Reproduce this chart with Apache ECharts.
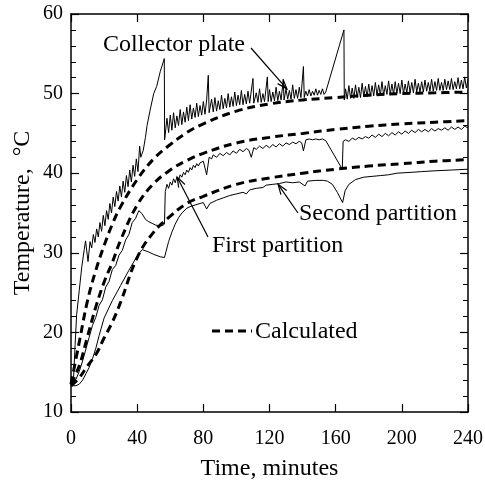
<!DOCTYPE html>
<html>
<head>
<meta charset="utf-8">
<script src="https://cdn.jsdelivr.net/npm/echarts@6/dist/echarts.min.js"></script>
<style>
  html, body { margin: 0; padding: 0; background: #fff; }
  #chart-show { width: 485px; height: 481px; }
</style>
</head>
<body>
<div id="chart-show"></div>
<script>
// axis ticks
var xTicks = [0, 40, 80, 120, 160, 200, 240];
var yTicks = [10, 20, 30, 40, 50, 60];

// measured: collector plate (minutes / deg C)
var collectorTime = [0, 1.5, 2.5, 3.4, 5, 6.5, 8, 8.8, 10.3, 11.5, 12.5, 13.5, 14.5, 15.5, 16.5, 17.5, 18.5, 19.5, 20.5, 21.5,
  22.5, 23.5, 24.5, 25.5, 26.5, 27.5, 28.5, 29.5, 30.5, 31.5, 32.5, 33.5, 34.5, 35.5, 36.5, 37.5, 38.5, 39.5, 40.5, 41.5,
  42.2, 43.7, 45, 46, 47.8, 50, 51.8, 54, 56.4, 56.6,
  58, 59, 60, 61, 62, 63, 64, 65, 66, 67, 68, 69, 70, 71, 72, 73, 74, 75, 76, 77, 78, 79, 80, 81, 82, 83, 83.5,
  85, 86, 87, 88, 89, 90, 91, 92, 93, 94, 95, 96, 97, 98, 99, 100, 101, 102, 103, 104, 105, 106, 107, 108, 110, 110.5,
  112, 113, 114, 115, 116, 117, 118.7, 119.2, 120, 121, 122, 123, 124, 125, 126, 127, 128.3, 128.8, 130, 131, 132, 133,
  134, 135, 136, 137, 138, 139, 140.5, 141, 142, 143, 144, 145, 146, 147, 148, 149, 150, 151, 152, 153, 154, 165, 165.2,
  166, 167, 168, 169, 170, 171, 172, 173, 174, 175, 176, 177, 178, 179, 180, 181, 182, 183, 184, 185, 186, 187, 188, 189,
  190, 191, 192, 193, 194, 195, 196, 197, 198, 199, 200, 201, 202, 203, 204, 205, 206, 207, 208, 209, 210, 211, 212, 213,
  214, 215, 216, 217, 218, 219, 220, 221, 222, 223, 224, 225, 226, 227, 228, 229, 230, 231, 232, 233, 234, 235, 236, 237,
  238, 239, 240];
var collectorTemp = [13.3, 14.0, 18.5, 22.2, 25.3, 28.2, 30.4, 31.5, 28.9, 31.4, 30.6, 32.3, 31.3, 33.0, 32.0, 33.8, 32.7, 34.7, 33.4, 35.3,
  34.2, 36.2, 35.0, 37.0, 35.8, 37.7, 36.5, 38.4, 37.0, 39.0, 37.6, 39.7, 38.3, 40.4, 38.9, 41.0, 39.6, 41.8, 40.2, 43.4,
  42.0, 42.9, 44.5, 46.0, 47.9, 50.0, 50.9, 52.8, 54.4, 44.2,
  46.9, 45.1, 47.3, 45.4, 47.6, 45.7, 47.2, 46.0, 48.0, 46.1, 47.7, 46.4, 48.3, 46.6, 48.6, 46.8, 48.2, 47.0, 48.8, 47.1, 48.5, 47.3, 49.0, 47.4, 49.2, 52.3, 47.6,
  49.3, 47.7, 49.5, 47.8, 49.1, 48.0, 49.8, 48.1, 49.4, 48.2, 50.0, 48.3, 49.6, 48.4, 50.2, 48.5, 49.8, 48.6, 50.4, 48.6, 49.9, 48.7, 50.3, 48.8, 51.9, 48.8,
  50.1, 48.9, 50.6, 48.9, 50.0, 49.0, 52.1, 49.0, 50.5, 49.0, 50.2, 49.1, 50.8, 49.1, 50.3, 49.2, 51.7, 49.2, 50.6, 49.3, 50.4, 49.3,
  51.1, 49.4, 50.5, 49.4, 50.8, 49.5, 53.4, 49.5, 50.3, 49.7, 50.5, 49.7, 50.3, 49.8, 50.6, 49.8, 50.4, 49.9, 50.6, 49.9, 50.2, 58.0, 49.2,
  50.6, 49.3, 51.0, 49.4, 50.7, 49.4, 51.1, 49.5, 50.8, 49.5, 51.3, 49.6, 50.9, 49.6, 51.2, 49.7, 51.0, 49.7, 51.4, 49.8, 51.1, 49.8, 51.5, 49.8,
  51.0, 49.9, 51.6, 49.9, 51.2, 49.9, 51.5, 50.0, 51.3, 50.0, 51.7, 50.0, 51.2, 50.1, 51.6, 50.1, 51.4, 50.1, 51.8, 50.2, 51.3, 50.2, 51.5, 50.2,
  51.7, 50.3, 51.4, 50.3, 51.8, 50.3, 51.5, 50.4, 51.9, 50.4, 51.4, 50.4, 51.8, 50.5, 51.6, 50.5, 51.9, 50.5, 51.5, 50.6, 52.0, 50.6, 51.7, 50.6,
  52.1, 50.7, 51.8];

// measured: first partition
var firstTime = [0, 3, 5, 7, 9, 11, 13, 15, 17, 19, 21, 23, 25, 27, 29, 31, 33, 35, 37, 39, 41, 43, 45, 47, 49, 51, 53, 55, 56.5, 57,
  58, 59, 60, 61, 62, 63, 64, 65, 66, 67, 68, 69, 70, 71, 72, 73, 74, 75, 76, 77, 78, 79, 80, 82, 83.5,
  85, 86, 88, 90, 92, 94, 96, 98, 100, 102, 104, 106, 107.5, 109, 110.5, 112, 114, 116, 118, 120, 122, 124, 126, 128, 130,
  132, 134, 136, 138, 139.5, 140.5, 142, 144, 146, 148, 150, 152, 154, 164, 164.5, 166, 168, 170, 172, 174, 176, 178, 180,
  182, 184, 186, 188, 190, 192, 194, 196, 198, 200, 202, 204, 206, 208, 210, 212, 214, 216, 218, 220, 222, 224, 226, 228,
  230, 232, 234, 236, 238, 240];
var firstTemp = [13.5, 14.1, 15.1, 16.4, 17.9, 19.4, 20.9, 21.9, 23.4, 24.1, 25.7, 26.4, 27.9, 28.4, 29.7, 30.3, 31.6, 32.3, 33.8, 34.3, 35.3, 34.9, 34.2, 33.9, 33.7, 33.5, 33.4, 33.4, 33.6, 37.7,
  38.6, 38.1, 38.9, 38.5, 39.3, 38.8, 39.5, 39.1, 39.8, 39.5, 40.1, 39.8, 40.4, 40.1, 40.7, 40.4, 41.0, 40.7, 41.2, 40.9, 41.3, 41.1, 41.5, 39.8, 42.0,
  41.8, 42.3, 42.0, 42.5, 42.2, 42.6, 42.3, 42.8, 42.5, 43.0, 42.7, 43.1, 42.9, 42.0, 43.2, 43.0, 43.4, 43.1, 43.5, 43.2, 43.6, 43.3, 43.7, 43.4, 43.8,
  43.6, 43.9, 43.7, 44.0, 43.8, 42.8, 44.2, 44.3, 44.2, 44.3, 44.2, 44.3, 44.1, 40.5, 44.0, 44.2, 44.0, 44.4, 44.2, 44.5, 44.3, 44.6, 44.4,
  44.8, 44.5, 44.9, 44.6, 45.0, 44.7, 45.1, 44.8, 45.2, 44.9, 45.3, 45.0, 45.4, 45.1, 45.5, 45.2, 45.5, 45.2, 45.6, 45.3, 45.6, 45.4, 45.7, 45.4,
  45.8, 45.5, 45.8, 45.5, 45.9, 45.7];

// measured: second partition
var secondTime = [0, 3, 5, 7, 9, 11, 13, 15, 17, 20, 25, 30, 35, 40, 43, 47, 50, 54, 56.5, 57.5, 59, 61, 63, 65, 67, 70, 72, 75,
  78, 80, 82, 84, 88, 92, 96, 100, 104, 106, 108, 112, 116, 118, 122, 126, 130, 134, 138, 141.5, 143, 148, 152.5, 155, 158,
  161, 164.2, 165.7, 168, 172, 177, 182, 187, 192, 197, 205, 212, 220, 230, 240];
var secondTemp = [13.3, 13.3, 13.5, 14.0, 14.8, 15.6, 16.7, 18.0, 19.6, 21.8, 24.0, 25.9, 27.8, 29.6, 30.4, 30.1, 29.8, 29.5, 29.4, 30.2, 31.4, 32.6, 33.6, 34.4, 35.0, 35.6, 35.8, 36.0,
  36.2, 36.3, 35.5, 36.2, 36.6, 36.9, 37.2, 37.4, 37.6, 37.4, 37.9, 38.1, 38.2, 38.5, 38.6, 38.7, 38.9, 38.8, 38.9, 38.4, 39.0, 39.1, 39.1, 39.0, 38.6,
  37.6, 36.3, 37.8, 38.6, 39.2, 39.5, 39.6, 39.7, 39.8, 40.0, 40.1, 40.2, 40.3, 40.4, 40.5];

// calculated curves
var calcTime = [0, 5, 10, 15, 20, 25, 30, 40, 50, 60, 70, 80, 100, 120, 140, 160, 180, 200, 220, 240];
var calcCollector = [13.5, 18.8, 24.0, 27.8, 30.9, 33.6, 35.8, 39.2, 41.8, 43.6, 45.1, 46.2, 47.8, 48.7, 49.2, 49.5, 49.8, 50.0, 50.1, 50.2];
var calcFirst = [13.5, 15.8, 19.5, 23.2, 26.3, 28.8, 31.6, 36.0, 38.7, 40.4, 41.6, 42.5, 43.8, 44.5, 45.0, 45.5, 45.9, 46.2, 46.4, 46.6];
var calcSecond = [13.3, 14.3, 15.8, 17.2, 19.3, 21.3, 23.8, 29.4, 32.6, 34.6, 36.2, 37.1, 38.6, 39.4, 40.0, 40.5, 40.9, 41.2, 41.5, 41.7];

window.onload = drawChart;

function pairs(xs, ys) {
    return xs.map(function (x, i) { return [x, ys[i]]; });
}

function drawChart() {
    var chart = echarts.init(document.getElementById('chart-show'), null, { renderer: 'canvas' });
    var serif = '"Liberation Serif", "DejaVu Serif", serif';
    var ink = '#000';

    function measured(name, xs, ys) {
        return { name: name, type: 'line', data: pairs(xs, ys), showSymbol: false, symbol: 'none',
            lineStyle: { color: ink, width: 1 }, z: 3 };
    }
    function calculated(name, ys) {
        return { name: name, type: 'line', data: pairs(calcTime, ys), showSymbol: false, symbol: 'none', smooth: 0.4,
            lineStyle: { color: ink, width: 3, type: [8, 5] }, z: 4 };
    }

    var xAxisBase = {
        type: 'value', min: xTicks[0], max: xTicks[xTicks.length - 1], interval: 40,
        splitLine: { show: false },
        axisLine: { onZero: false, lineStyle: { color: ink, width: 1.5 } },
        axisTick: { inside: true, length: 8, lineStyle: { color: ink, width: 1.2 } }
    };
    var yAxisBase = {
        type: 'value', min: yTicks[0], max: yTicks[yTicks.length - 1], interval: 10,
        splitLine: { show: false },
        axisLine: { onZero: false, lineStyle: { color: ink, width: 1.5 } },
        axisTick: { inside: true, length: 8, lineStyle: { color: ink, width: 1.2 } },
        minorTick: { show: true, splitNumber: 5, length: 5, lineStyle: { color: ink, width: 1 } },
        minorSplitLine: { show: false }
    };

    var option = {
        animation: false,
        backgroundColor: '#fff',
        grid: { left: 71, right: 17, top: 14, bottom: 69, containLabel: false, outerBoundsMode: 'none' },
        xAxis: [
            Object.assign({}, xAxisBase, {
                position: 'bottom',
                name: 'Time, minutes', nameLocation: 'middle', nameGap: 45,
                nameTextStyle: { fontFamily: serif, fontSize: 24, color: ink },
                axisLabel: { margin: 17, fontFamily: serif, fontSize: 20, color: ink }
            }),
            Object.assign({}, xAxisBase, { position: 'top', axisLabel: { show: false } })
        ],
        yAxis: [
            Object.assign({}, yAxisBase, {
                position: 'left',
                name: 'Temperature,  \u00B0C', nameLocation: 'middle', nameGap: 36, nameRotate: 90,
                nameMoveOverlap: false,
                nameTextStyle: { fontFamily: serif, fontSize: 24, color: ink },
                axisLabel: { margin: 8, fontFamily: serif, fontSize: 20, color: ink }
            }),
            Object.assign({}, yAxisBase, { position: 'right', axisLabel: { show: false } })
        ],
        series: [
            measured('Collector plate', collectorTime, collectorTemp),
            measured('First partition', firstTime, firstTemp),
            measured('Second partition', secondTime, secondTemp),
            calculated('Calculated collector', calcCollector),
            calculated('Calculated first', calcFirst),
            calculated('Calculated second', calcSecond)
        ],
        graphic: []
    };
    chart.setOption(option);

    // annotations: arrows point at data positions
    function px(t, v) { return chart.convertToPixel({ xAxisIndex: 0, yAxisIndex: 0 }, [t, v]); }
    function arrow(from, tipData) {
        var tip = px(tipData[0], tipData[1]);
        var dx = from[0] - tip[0], dy = from[1] - tip[1];
        var len = Math.sqrt(dx * dx + dy * dy);
        var ux = dx / len, uy = dy / len;
        var hl = 10, hw = 3.5;
        var left = [tip[0] + ux * hl - uy * hw, tip[1] + uy * hl + ux * hw];
        var right = [tip[0] + ux * hl + uy * hw, tip[1] + uy * hl - ux * hw];
        return [
            { type: 'line', shape: { x1: from[0], y1: from[1], x2: tip[0], y2: tip[1] },
              style: { stroke: ink, lineWidth: 1.2 }, z: 10 },
            { type: 'polyline', shape: { points: [left, tip, right] },
              style: { stroke: ink, lineWidth: 1.2, fill: null }, z: 10 }
        ];
    }
    function label(text, x, y) {
        return { type: 'text', left: x, top: y, z: 10,
                 style: { text: text, fill: ink, font: '24px ' + serif } };
    }
    var g = [];
    g.push(label('Collector plate', 103, 33));
    g = g.concat(arrow([251, 48], [130.5, 50.6]));
    g.push(label('Second partition', 299, 202));
    g = g.concat(arrow([298, 213], [125.2, 38.6]));
    g.push(label('First partition', 212, 234));
    g = g.concat(arrow([208, 237], [64.2, 39.5]));
    g.push({ type: 'line', shape: { x1: 212, y1: 331, x2: 252, y2: 331 },
             style: { stroke: ink, lineWidth: 3, lineDash: [8, 5] }, z: 10 });
    g.push(label('Calculated', 255, 320));
    chart.setOption({ graphic: g });

    window.onresize = function () { chart.resize(); };
}
</script>
</body>
</html>
